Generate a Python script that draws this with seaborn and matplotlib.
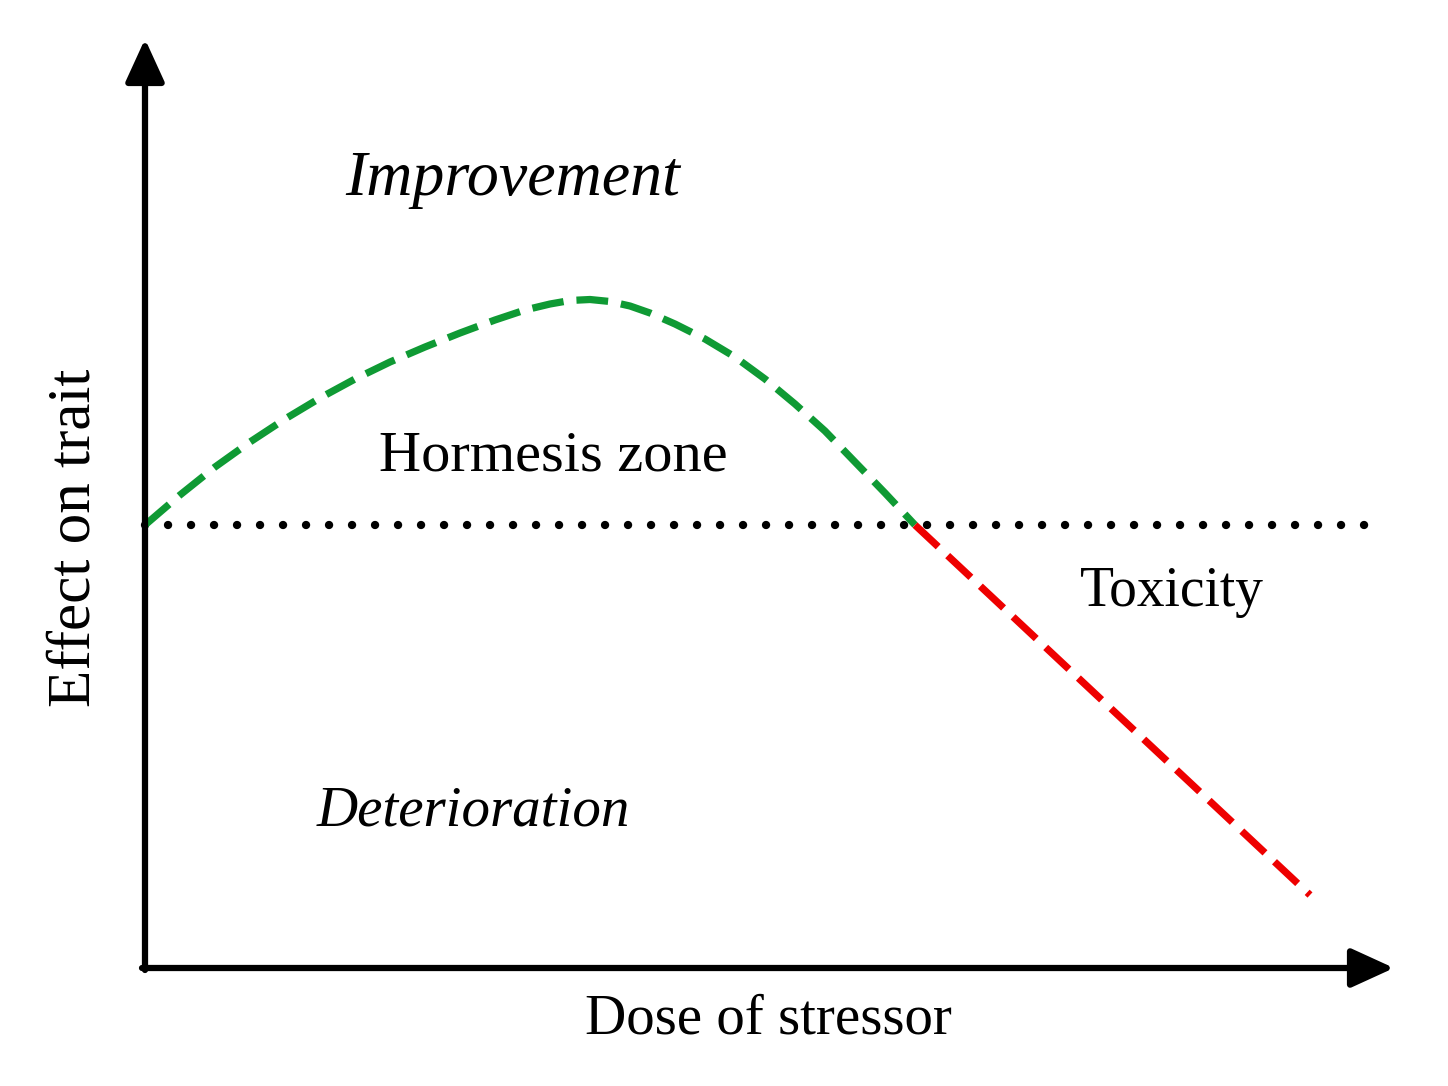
import numpy as np
import pandas as pd
import matplotlib.pyplot as plt
import seaborn as sns

# hormesis curve, dose vs effect (effect 0 = control baseline)
hormesis_dose = [0, 35, 70, 105, 140, 175, 210, 245, 280, 315, 350, 380, 405,
                 425, 445, 465, 485, 505, 530, 560, 590, 620, 650, 680, 710, 740, 770]
hormesis_effect = [0, 30, 58, 83, 106, 127, 146, 163, 178, 192, 205, 215, 221,
                   224.5, 225.5, 223.5, 219, 212, 201, 186, 168, 146, 121, 94, 63, 32, 0]
toxic_dose = [770, 1165]
toxic_effect = [0, -370]
baseline_dose = [0, 1240]
baseline_effect = [0, 0]

labels = ['Improvement', 'Hormesis zone', 'Toxicity', 'Deterioration']

sns.set_style('white')
plt.rcParams['font.family'] = ['Liberation Serif', 'DejaVu Serif']
plt.rcParams['text.color'] = 'black'

fig = plt.figure(figsize=(14.48, 10.86), dpi=100)
ax = fig.add_axes([0, 0, 1, 1])
# one data unit = one pixel, origin at the start of the baseline
ax.set_xlim(-145, 1303)
ax.set_ylim(-561, 525)
ax.axis('off')

green = '#0f9a34'
red = '#ee0000'

sns.lineplot(x=baseline_dose, y=baseline_effect, ax=ax, color='black',
             lw=6, linestyle=(0, (0.01, 2.75)), dash_capstyle='round', zorder=1)
sns.lineplot(x=hormesis_dose, y=hormesis_effect, ax=ax, color=green,
             lw=5.2, zorder=2, sort=False)
ax.lines[-1].set_dashes((4.4, 1.8))
sns.lineplot(x=toxic_dose, y=toxic_effect, ax=ax, color=red, lw=5.2,
             zorder=2, sort=False)
ax.lines[-1].set_dashes((4.4, 1.8))

# axes with arrow heads
arrow = dict(arrowstyle='-|>,head_length=1.05,head_width=0.48', lw=4.5,
             color='black', mutation_scale=25, shrinkA=0, shrinkB=0)
ax.annotate('', xy=(0, 486), xytext=(0, -445), arrowprops=arrow)
ax.annotate('', xy=(1249, -443), xytext=(-3, -443), arrowprops=arrow)

ax.text(368, 345, labels[0], style='italic', fontsize=46, ha='center', va='center')
ax.text(408, 68, labels[1], fontsize=42, ha='center', va='center')
ax.text(1027, -67, labels[2], fontsize=40, ha='center', va='center')
ax.text(328, -287, labels[3], style='italic', fontsize=41, ha='center', va='center')
ax.text(623, -495, 'Dose of stressor', fontsize=41, ha='center', va='center')
ax.text(-70, -13, 'Effect on trait', fontsize=44, ha='center', va='center', rotation=90)

fig.savefig('out.png', dpi=100, facecolor='white')
